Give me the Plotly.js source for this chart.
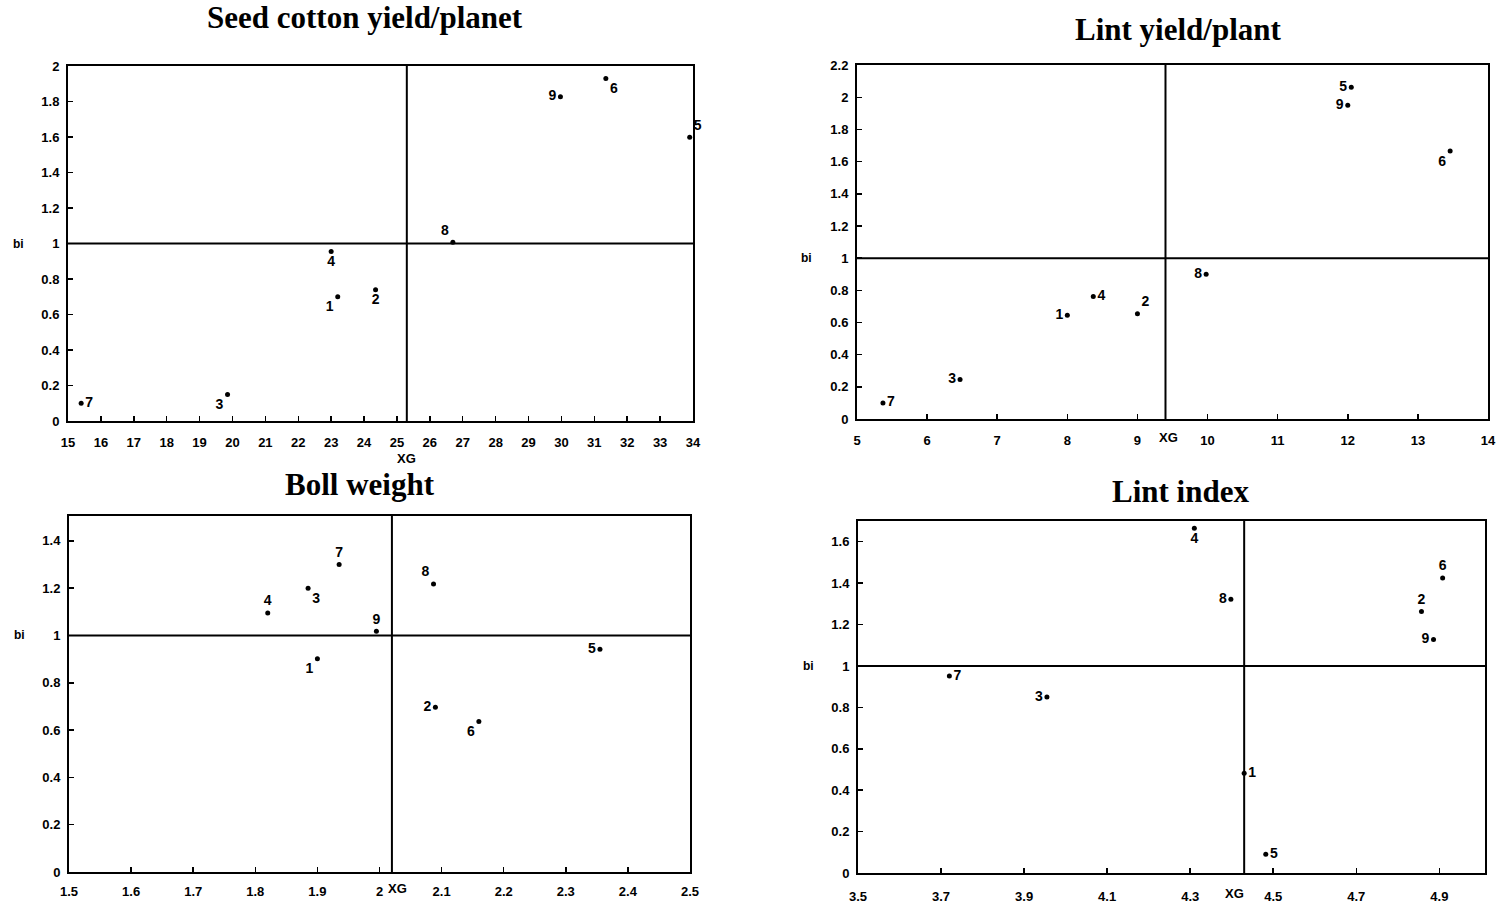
<!DOCTYPE html>
<html>
<head>
<meta charset="utf-8">
<script src="https://cdn.plot.ly/plotly-3.0.1.min.js"></script>
<style>html,body{margin:0;padding:0;background:#fff}#chart{width:1510px;height:904px}</style>
</head>
<body>
<div id="chart"></div>
<script>
// ---- data ----
const genotypes = ['1','2','3','4','5','6','7','8','9'];

const seedX = [23.2, 24.35, 19.85, 23.0, 33.9, 31.35, 15.4, 26.7, 29.97];
const seedY = [0.70, 0.74, 0.15, 0.955, 1.60, 1.93, 0.10, 1.008, 1.828];
const seedXG = 25.3;

const lintX = [8.0, 9.0, 6.47, 8.37, 12.05, 13.46, 5.37, 9.98, 12.0];
const lintY = [0.645, 0.655, 0.245, 0.762, 2.063, 1.667, 0.10, 0.90, 1.95];
const lintXG = 9.4;

const bollX = [1.90, 2.09, 1.885, 1.82, 2.355, 2.16, 1.935, 2.087, 1.995];
const bollY = [0.902, 0.696, 1.20, 1.095, 0.942, 0.636, 1.30, 1.218, 1.018];
const bollXG = 2.02;

const indexX = [4.43, 4.857, 3.955, 4.31, 4.482, 4.908, 3.72, 4.398, 4.886];
const indexY = [0.482, 1.263, 0.85, 1.665, 0.09, 1.425, 0.951, 1.322, 1.128];
const indexXG = 4.43;

const seedXTicks = [15,16,17,18,19,20,21,22,23,24,25,26,27,28,29,30,31,32,33,34];
const seedYTicks = [0,0.2,0.4,0.6,0.8,1,1.2,1.4,1.6,1.8,2];
const lintXTicks = [5,6,7,8,9,10,11,12,13,14];
const lintYTicks = [0,0.2,0.4,0.6,0.8,1,1.2,1.4,1.6,1.8,2,2.2];
const bollXTicks = [1.5,1.6,1.7,1.8,1.9,2,2.1,2.2,2.3,2.4,2.5];
const bollYTicks = [0,0.2,0.4,0.6,0.8,1,1.2,1.4];
const indexXTicks = [3.5,3.7,3.9,4.1,4.3,4.5,4.7,4.9];
const indexYTicks = [0,0.2,0.4,0.6,0.8,1,1.2,1.4,1.6];

const titles = ['Seed cotton yield/planet','Lint yield/plant','Boll weight','Lint index'];

// ---- presentation ----
const seedPos  = ['bottom left','bottom center','bottom left','bottom center','top right','bottom right','middle right','top left','middle left'];
const lintPos  = ['middle left','top right','middle left','middle right','middle left','bottom left','middle right','middle left','middle left'];
const bollPos  = ['bottom left','middle left','bottom right','top center','middle left','bottom left','top center','top left','top center'];
const indexPos = ['middle right','top center','middle left','bottom center','middle right','top center','middle right','middle left','middle left'];

const panels = [
  {x:seedX, y:seedY, xg:seedXG, pos:seedPos, xt:seedXTicks, yt:seedYTicks, xr:[15,34], yr:[0,2.001],
   dx:[68,693], dy:[66,421], title:titles[0], tpos:[365,18], xgMode:'below', xgShift:0, stand:8},
  {x:lintX, y:lintY, xg:lintXG, pos:lintPos, xt:lintXTicks, yt:lintYTicks, xr:[5,14], yr:[0,2.201],
   dx:[857,1488], dy:[65,419], title:titles[1], tpos:[1178,30], xgMode:'row', xgShift:3, stand:8},
  {x:bollX, y:bollY, xg:bollXG, pos:bollPos, xt:bollXTicks, yt:bollYTicks, xr:[1.5,2.5], yr:[0,1.505],
   dx:[69,690], dy:[516,872], title:titles[2], tpos:[360,484], xgMode:'row', xgShift:6, stand:6},
  {x:indexX, y:indexY, xg:indexXG, pos:indexPos, xt:indexXTicks, yt:indexYTicks, xr:[3.5,5.01], yr:[0,1.7],
   dx:[858,1485], dy:[521,873], title:titles[3], tpos:[1180,492], xgMode:'row', xgShift:-10, stand:10}
];

const W = 1510, H = 904;
const tickFont = {family:'Liberation Sans, Arial, sans-serif', size:13, color:'#000', weight:700};
const traces = [];
const layout = {
  width:W, height:H, margin:{l:0,r:0,t:0,b:0},
  paper_bgcolor:'#fff', plot_bgcolor:'#fff', showlegend:false,
  shapes:[], annotations:[]
};

panels.forEach((p,i) => {
  const n = i+1;
  const xa = 'xaxis'+(n===1?'':n), ya = 'yaxis'+(n===1?'':n);
  const xr = 'x'+(n===1?'':n), yr = 'y'+(n===1?'':n);
  traces.push({
    type:'scatter', mode:'markers+text', x:p.x, y:p.y, text:genotypes,
    textposition:p.pos, xaxis:xr, yaxis:yr, cliponaxis:false,
    marker:{color:'#000', size:5},
    textfont:{family:'Liberation Sans, Arial, sans-serif', size:14, color:'#000', weight:700},
    hoverinfo:'skip'
  });
  const axBase = {
    showgrid:false, zeroline:false, showline:true, linecolor:'#000', linewidth:2, mirror:true,
    ticks:'inside', ticklen:5, tickwidth:1.5, tickcolor:'#000', tickfont:tickFont
  };
  layout[xa] = Object.assign({}, axBase, {
    domain:[p.dx[0]/W, p.dx[1]/W], range:p.xr, tickmode:'array', tickvals:p.xt,
    anchor:yr, ticklabelstandoff:p.stand
  });
  layout[ya] = Object.assign({}, axBase, {
    domain:[1-p.dy[1]/H, 1-p.dy[0]/H], range:p.yr, tickmode:'array', tickvals:p.yt,
    anchor:xr, ticklabelstandoff:4
  });
  // reference lines: bi = 1 and XG
  layout.shapes.push({type:'line', xref:xr+' domain', yref:yr, x0:0, x1:1, y0:1, y1:1,
    line:{color:'#000', width:2}});
  layout.shapes.push({type:'line', xref:xr, yref:yr+' domain', x0:p.xg, x1:p.xg, y0:0, y1:1,
    line:{color:'#000', width:2}});
  // titles
  layout.annotations.push({text:'<b>'+p.title+'</b>', xref:'paper', yref:'paper',
    x:p.tpos[0]/W, y:1-p.tpos[1]/H, xanchor:'center', yanchor:'middle', showarrow:false,
    font:{family:'Liberation Serif, Times New Roman, serif', size:31, color:'#000'}});
  // bi label
  layout.annotations.push({text:'bi', xref:xr+' domain', yref:yr, x:0, y:1, xshift:-50,
    xanchor:'center', yanchor:'middle', showarrow:false,
    font:{family:'Liberation Sans, Arial, sans-serif', size:12, color:'#000', weight:700}});
  // XG label
  const xgY = p.xgMode === 'below' ? -38 : -18 - p.stand + 8;
  layout.annotations.push({text:'XG', xref:xr, yref:yr+' domain', x:p.xg, y:0, yshift:xgY,
    xshift:p.xgShift, xanchor:'center', yanchor:'middle', showarrow:false,
    font:{family:'Liberation Sans, Arial, sans-serif', size:13, color:'#000', weight:700}});
});

Plotly.newPlot('chart', traces, layout, {staticPlot:true, displayModeBar:false});
</script>
</body>
</html>
